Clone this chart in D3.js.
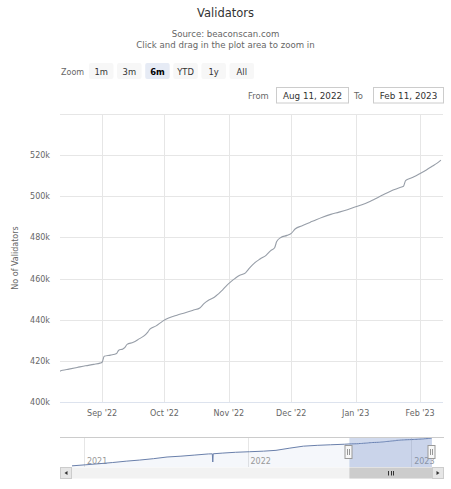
<!DOCTYPE html>
<html>
<head>
<meta charset="utf-8">
<script src="https://cdn.jsdelivr.net/npm/d3@7"></script>
<style>
  body { margin: 0; background: #fff; }
  svg { display: block; font-family: "DejaVu Sans", sans-serif; }
</style>
</head>
<body>
<svg id="chart" width="451" height="489"></svg>
<script>
// main series, Aug 2022 - Feb 2023 (validators, thousands)
const dates = [
  "2022-08-11","2022-08-13","2022-08-16","2022-08-20","2022-08-24","2022-08-28","2022-08-31",
  "2022-09-01","2022-09-02","2022-09-05","2022-09-08","2022-09-09","2022-09-11","2022-09-12",
  "2022-09-13","2022-09-16","2022-09-19","2022-09-21","2022-09-23","2022-09-24","2022-09-27",
  "2022-09-30","2022-10-03","2022-10-07","2022-10-11","2022-10-15","2022-10-18","2022-10-20",
  "2022-10-22","2022-10-25","2022-10-27","2022-10-29","2022-10-31","2022-11-02","2022-11-04",
  "2022-11-06","2022-11-09","2022-11-11","2022-11-13","2022-11-16","2022-11-19","2022-11-21",
  "2022-11-23","2022-11-24","2022-11-26","2022-11-29","2022-12-01","2022-12-03","2022-12-06",
  "2022-12-10","2022-12-13","2022-12-16","2022-12-20","2022-12-24","2022-12-28","2023-01-01",
  "2023-01-04","2023-01-07","2023-01-10","2023-01-13","2023-01-16","2023-01-19","2023-01-22",
  "2023-01-24","2023-01-25","2023-01-27","2023-01-29","2023-02-01","2023-02-04","2023-02-07",
  "2023-02-09","2023-02-11"
];
const validators = [
  414.8,415.4,416.0,416.8,417.6,418.3,418.9,
  419.3,422.2,422.8,423.6,425.2,425.8,426.5,
  428.0,429.0,430.8,432.0,434.0,435.4,437.0,
  439.2,440.8,442.2,443.4,444.7,445.7,447.8,
  449.3,450.9,452.6,454.5,456.7,458.5,460.1,
  461.5,462.8,465.2,467.3,469.5,471.4,473.5,
  475.0,478.0,480.0,481.0,482.0,484.2,485.6,
  487.3,488.6,489.8,491.2,492.3,493.5,494.9,
  495.9,497.1,498.6,500.1,501.6,503.0,504.2,
  504.9,507.6,508.6,509.5,511.1,512.8,514.7,
  516.0,517.6
];

// navigator history before the main range (thousands)
const navDates = [
  "2020-12-01","2021-01-01","2021-02-01","2021-03-01","2021-04-01","2021-05-01",
  "2021-06-01","2021-07-01","2021-08-01","2021-09-01","2021-10-01","2021-10-10",
  "2021-10-11","2021-10-12","2021-11-01","2021-12-01","2022-01-01","2022-02-01",
  "2022-03-01","2022-04-01","2022-05-01","2022-06-01","2022-07-01","2022-08-01"
];
const navValues = [
  21,40,60,80,105,125,
  150,180,195,215,235,237,
  90,238,250,265,275,285,
  300,340,375,390,400,410
];

const yTicks = [400,420,440,460,480,500,520,540];
const rangeButtons = ["1m","3m","6m","YTD","1y","All"];
const selectedButton = "6m";
const fromLabel = "Aug 11, 2022";
const toLabel = "Feb 11, 2023";

const parse = d3.utcParse("%Y-%m-%d");
const series = dates.map((d, i) => ({date: parse(d), value: validators[i]}));
const navSeries = navDates.map((d, i) => ({date: parse(d), value: navValues[i]})).concat(series);

const svg = d3.select("#chart");

// ---------- titles
svg.append("text")
  .attr("x", 225.5).attr("y", 17)
  .attr("text-anchor", "middle")
  .style("font-size", "11.5px").style("fill", "#333")
  .text("Validators");

svg.append("text")
  .attr("x", 225.5).attr("y", 36.5)
  .attr("text-anchor", "middle")
  .style("font-size", "8.6px").style("fill", "#666")
  .text("Source: beaconscan.com");

svg.append("text")
  .attr("x", 225.5).attr("y", 47.5)
  .attr("text-anchor", "middle")
  .style("font-size", "8.6px").style("fill", "#666")
  .text("Click and drag in the plot area to zoom in");

// ---------- range selector
svg.append("text")
  .attr("x", 61).attr("y", 74.5)
  .style("font-size", "8px").style("fill", "#666")
  .text("Zoom");

const btnX = d3.scaleBand()
  .domain(rangeButtons)
  .range([89, 254])
  .paddingInner(0.13);

const btn = svg.append("g").selectAll("g")
  .data(rangeButtons)
  .join("g")
  .attr("transform", (d) => `translate(${btnX(d)},63)`);

btn.append("rect")
  .attr("width", btnX.bandwidth())
  .attr("height", 16)
  .attr("rx", 2)
  .style("fill", (d) => d == selectedButton ? "#e6ebf5" : "#f7f7f7");

btn.append("text")
  .attr("x", btnX.bandwidth() / 2).attr("y", 11.5)
  .attr("text-anchor", "middle")
  .style("font-size", "8.4px")
  .style("font-weight", (d) => d == selectedButton ? "bold" : "normal")
  .style("fill", (d) => d == selectedButton ? "#000" : "#333")
  .text((d) => d);

const inputs = [
  {label: "From", lx: 248, bx: 276, bw: 72, text: fromLabel},
  {label: "To", lx: 354, bx: 373, bw: 70, text: toLabel}
];
inputs.forEach(function(inp){
  svg.append("text")
    .attr("x", inp.lx).attr("y", 98.5)
    .style("font-size", "8.4px").style("fill", "#666")
    .text(inp.label);
  svg.append("rect")
    .attr("x", inp.bx + 0.5).attr("y", 87.5)
    .attr("width", inp.bw).attr("height", 15.5)
    .style("fill", "#fff").style("stroke", "#ccc");
  svg.append("text")
    .attr("x", inp.bx + inp.bw / 2 + 0.5).attr("y", 98.8)
    .attr("text-anchor", "middle")
    .style("font-size", "8.8px").style("fill", "#333")
    .text(inp.text);
});

// ---------- main plot
const plot = {left: 60, right: 443, top: 114, bottom: 402};

const x = d3.scaleUtc()
  .domain([new Date(Date.UTC(2022, 7, 11, 18)), new Date(Date.UTC(2023, 1, 12))])
  .range([plot.left, plot.right]);

const y = d3.scaleLinear()
  .domain([400, 540])
  .range([plot.bottom, plot.top]);

const monthTicks = d3.utcMonth.range(new Date(Date.UTC(2022, 8, 1)), new Date(Date.UTC(2023, 1, 2)));

// horizontal grid
svg.append("g").selectAll("line")
  .data(yTicks)
  .join("line")
  .attr("x1", plot.left).attr("x2", plot.right)
  .attr("y1", (d) => Math.round(y(d)) + 0.5)
  .attr("y2", (d) => Math.round(y(d)) + 0.5)
  .style("stroke", "#e6e6e6");

// vertical grid
svg.append("g").selectAll("line")
  .data(monthTicks)
  .join("line")
  .attr("x1", (d) => Math.round(x(d)) + 0.5)
  .attr("x2", (d) => Math.round(x(d)) + 0.5)
  .attr("y1", plot.top).attr("y2", plot.bottom)
  .style("stroke", "#e6e6e6");

// x axis line
svg.append("line")
  .attr("x1", plot.left).attr("x2", plot.right)
  .attr("y1", plot.bottom + 0.5).attr("y2", plot.bottom + 0.5)
  .style("stroke", "#dde3ee");

// y labels (top one hidden)
svg.append("g").selectAll("text")
  .data(yTicks.slice(0, -1))
  .join("text")
  .attr("x", 50)
  .attr("y", (d) => y(d) + 3)
  .attr("text-anchor", "end")
  .style("font-size", "8px").style("fill", "#666")
  .text((d) => `${d}k`);

// x labels
const fmtMonth = d3.utcFormat("%b '%y");
svg.append("g").selectAll("text")
  .data(monthTicks)
  .join("text")
  .attr("x", (d) => x(d))
  .attr("y", 416)
  .attr("text-anchor", "middle")
  .style("font-size", "8px").style("fill", "#666")
  .text((d) => fmtMonth(d));

svg.append("text")
  .attr("transform", `translate(18,${(plot.top + plot.bottom) / 2}) rotate(-90)`)
  .attr("text-anchor", "middle")
  .style("font-size", "8px").style("fill", "#666")
  .text("No of Validators");

svg.append("clipPath").attr("id", "plotclip")
  .append("rect")
  .attr("x", plot.left).attr("y", plot.top)
  .attr("width", plot.right - plot.left).attr("height", plot.bottom - plot.top);

const line = d3.line()
  .x((d) => x(d.date))
  .y((d) => y(d.value))
  .curve(d3.curveMonotoneX);

svg.append("path")
  .datum(series)
  .attr("clip-path", "url(#plotclip)")
  .attr("d", line)
  .style("fill", "none")
  .style("stroke", "#979ea8")
  .style("stroke-width", 1.1);

// ---------- navigator
const nav = {left: 72, right: 432, top: 437, bottom: 467};

const nx = d3.scaleUtc()
  .domain([new Date(Date.UTC(2020, 11, 1)), new Date(Date.UTC(2023, 1, 12))])
  .range([nav.left, nav.right]);

const ny = d3.scaleLinear()
  .domain([0, 540])
  .range([nav.bottom, nav.top]);

const yearTicks = [2021, 2022, 2023].map((yr) => new Date(Date.UTC(yr, 0, 1)));

svg.append("g").selectAll("line")
  .data(yearTicks)
  .join("line")
  .attr("x1", (d) => Math.round(nx(d)) - 1.5)
  .attr("x2", (d) => Math.round(nx(d)) - 1.5)
  .attr("y1", nav.top).attr("y2", nav.bottom)
  .style("stroke", "#e6e6e6");

svg.append("path")
  .datum(navSeries)
  .attr("d", d3.area()
    .x((d) => nx(d.date))
    .y0(nav.bottom)
    .y1((d) => ny(d.value)))
  .style("fill", "rgba(51,92,173,0.05)");

svg.append("g").selectAll("text")
  .data(yearTicks)
  .join("text")
  .attr("x", (d) => nx(d) + 1)
  .attr("y", 464)
  .style("font-size", "8px").style("fill", "#999")
  .text((d) => d.getUTCFullYear());

svg.append("path")
  .datum(navSeries)
  .attr("d", d3.line()
    .x((d) => nx(d.date))
    .y((d) => ny(d.value)))
  .style("fill", "none")
  .style("stroke", "#6a80ab")
  .style("stroke-width", 1);

const selX0 = nx(x.domain()[0]);
const selX1 = nx(x.domain()[1]);

svg.append("rect")
  .attr("x", selX0).attr("y", nav.top)
  .attr("width", selX1 - selX0).attr("height", nav.bottom - nav.top)
  .style("fill", "rgba(102,133,194,0.3)");

svg.append("line")
  .attr("x1", plot.left).attr("x2", plot.right + 1)
  .attr("y1", nav.top + 0.5).attr("y2", nav.top + 0.5)
  .style("stroke", "#cccccc");

// scrollbar
svg.append("rect")
  .attr("x", plot.left).attr("y", nav.bottom + 0.5)
  .attr("width", plot.right + 1 - plot.left).attr("height", 11)
  .style("fill", "#f2f2f2");

svg.append("rect")
  .attr("x", selX0).attr("y", nav.bottom + 0.5)
  .attr("width", selX1 - selX0).attr("height", 11)
  .style("fill", "#cccccc");

const gripX = (selX0 + selX1) / 2;
[-2.5, 0, 2.5].forEach(function(dx){
  svg.append("line")
    .attr("x1", Math.round(gripX + dx) + 0.5).attr("x2", Math.round(gripX + dx) + 0.5)
    .attr("y1", nav.bottom + 4).attr("y2", nav.bottom + 8.5)
    .style("stroke", "#333");
});

[{x0: plot.left, dir: -1}, {x0: plot.right + 1 - 12, dir: 1}].forEach(function(b){
  svg.append("rect")
    .attr("x", b.x0 + 0.5).attr("y", nav.bottom + 0.5)
    .attr("width", 11).attr("height", 11)
    .style("fill", "#e6e6e6").style("stroke", "#cccccc");
  const cx = b.x0 + 6, cy = nav.bottom + 6;
  svg.append("path")
    .attr("d", `M${cx - 1.5 * b.dir},${cy - 2} L${cx + 1.5 * b.dir},${cy} L${cx - 1.5 * b.dir},${cy + 2} Z`)
    .style("fill", "#333");
});

// handles
[selX0, selX1].forEach(function(hx){
  const g = svg.append("g").attr("transform", `translate(${Math.round(hx) - 0.5},${(nav.top + nav.bottom) / 2})`);
  g.append("rect")
    .attr("x", -3.5).attr("y", -6.5)
    .attr("width", 7).attr("height", 13)
    .style("fill", "#f7f7f7").style("stroke", "#999");
  g.append("path")
    .attr("d", "M-1,-3 V3 M1,-3 V3")
    .style("stroke", "#555").style("stroke-width", 0.6);
});
</script>
</body>
</html>
